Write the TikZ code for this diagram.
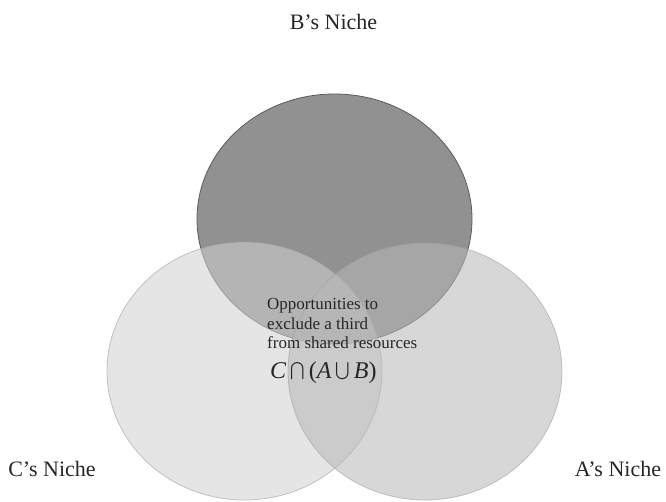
\documentclass[tikz,border=0pt]{standalone}
\usepackage{amsmath}
\usepackage{exscale}
\usepackage{fontspec}
\setmainfont{Liberation Serif}
\definecolor{Bfill}{gray}{0.57}
\definecolor{Bline}{gray}{0.36}
\definecolor{Cfill}{gray}{0.818}
\definecolor{Afill}{gray}{0.72}
\definecolor{CAline}{gray}{0.62}
\newcommand{\vennop}[1]{{\fontsize{17}{19}\selectfont\raisebox{3pt}{$#1$}}}
\begin{document}
\begin{tikzpicture}[x=1pt,y=-1pt,
  nicheB/.style={fill=Bfill,draw=Bline,line width=0.8pt},
  nicheC/.style={fill=Cfill,draw=CAline,line width=0.8pt,opacity=0.56},
  nicheA/.style={fill=Afill,draw=CAline,line width=0.8pt,opacity=0.56},
  nichelabel/.style={font=\fontsize{22}{26}\selectfont,anchor=base,inner sep=0pt,text=black!85},
  bodytext/.style={font=\fontsize{17}{19.5}\selectfont,align=left,anchor=north west,inner sep=0pt,text=black!85}]
\useasboundingbox (0,0) rectangle (666,501);
\fill[white] (0,0) rectangle (666,501);
\path[nicheB] (334.5,219) ellipse [x radius=137.5pt, y radius=125pt];
\path[nicheC] (244.5,371) ellipse [x radius=137.5pt, y radius=129pt];
\path[nicheA] (425,371.5) ellipse [x radius=137pt, y radius=128.5pt];
\node[nichelabel] (labB) at (333.5,29) {B’s Niche};
\node[nichelabel] (labC) at (52,476) {C’s Niche};
\node[nichelabel] (labA) at (618,476) {A’s Niche};
\node[bodytext] (opp) at (267,298.5) {Opportunities to\\exclude a third\\from shared resources};
\node[anchor=base west,inner sep=0pt,font=\fontsize{24}{28}\selectfont,text=black!85] (formula) at (270,378) {\textit{C}\,\vennop{\bigcap}\,(\textit{A}\,\vennop{\bigcup}\,\textit{B})};
\end{tikzpicture}
\end{document}
